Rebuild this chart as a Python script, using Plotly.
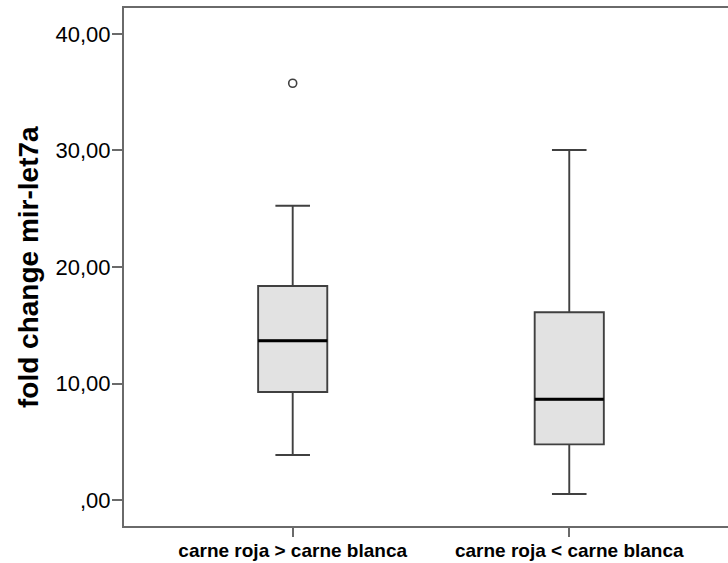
import plotly.graph_objects as go

categories = ["carne roja > carne blanca", "carne roja < carne blanca"]
lower_whisker = [3.86, 0.52]
q1_vals = [9.27, 4.78]
median_vals = [13.67, 8.64]
q3_vals = [18.37, 16.11]
upper_whisker = [25.26, 30.04]
outlier_cat = ["carne roja > carne blanca"]
outlier_vals = [35.77]
y_tick_vals = [0, 10, 20, 30, 40]
y_tick_text = [",00", "10,00", "20,00", "30,00", "40,00"]

box_w = 0.25
font_family = "Liberation Sans, Arial, sans-serif"

fig = go.Figure()
fig.add_trace(go.Box(
    x=categories, q1=q1_vals, median=median_vals, q3=q3_vals,
    lowerfence=lower_whisker, upperfence=upper_whisker,
    width=box_w, whiskerwidth=0.5,
    fillcolor="#e2e2e2", line=dict(color="#404040", width=1.9),
    boxpoints=False, showlegend=False, hoverinfo="skip",
))
# thick median lines
for i, m in enumerate(median_vals):
    fig.add_shape(type="line", xref="x", yref="y",
                  x0=i - box_w / 2, x1=i + box_w / 2, y0=m, y1=m,
                  line=dict(color="#000000", width=3))
fig.add_trace(go.Scatter(
    x=outlier_cat, y=outlier_vals, mode="markers",
    marker=dict(symbol="circle-open", size=8, color="#404040", line=dict(width=1.6)),
    showlegend=False, hoverinfo="skip",
))

fig.add_annotation(
    text="<b>fold change mir-let7a</b>", textangle=-90,
    xref="paper", yref="paper", x=(28 - 124) / 604, y=0.5,
    xanchor="center", yanchor="middle", showarrow=False,
    font=dict(family=font_family, size=28, color="#000000"),
)

fig.update_layout(
    width=728, height=563,
    margin=dict(l=124, r=0, t=8, b=37),
    paper_bgcolor="white", plot_bgcolor="white",
    font=dict(family=font_family, color="#000000"),
    xaxis=dict(
        type="category", range=[-0.61, 1.574],
        showline=True, linecolor="#6a6a6a", linewidth=2, mirror=True,
        ticks="outside", ticklen=9, tickcolor="#6a6a6a", tickwidth=1.5,
        showgrid=False, zeroline=False, ticklabelstandoff=-3,
        tickfont=dict(family=font_family, size=19, color="#000000"),
        tickprefix="<b>", ticksuffix="</b>",
    ),
    yaxis=dict(
        range=[-2.23, 42.23],
        tickvals=y_tick_vals, ticktext=y_tick_text,
        showline=True, linecolor="#6a6a6a", linewidth=2,
        ticks="outside", ticklen=10, tickcolor="#6a6a6a", tickwidth=1.5,
        showgrid=False, zeroline=False, ticklabelstandoff=-3,
        tickfont=dict(family=font_family, size=22, color="#000000"),
    ),
)

fig.write_html("out.html")
